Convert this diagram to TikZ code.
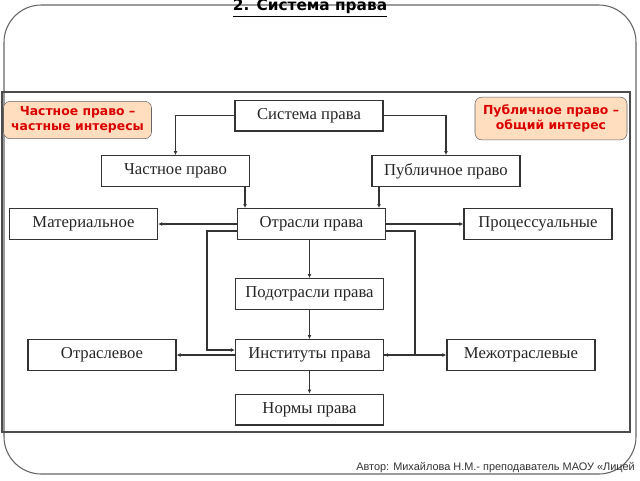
\documentclass[tikz,border=0pt]{standalone}
\usepackage{fontspec}
\setmainfont{Liberation Serif}
\newfontfamily\dv{DejaVu Sans}
\newfontfamily\lsans{Liberation Sans}
\begin{document}
\begin{tikzpicture}[x=0.75pt,y=-0.75pt,
  bx/.style={draw=black!80,line width=1pt,minimum width=111pt,minimum height=23pt,inner sep=0pt,font=\fontsize{12.5}{14}\selectfont,text=black!85},
  rb/.style={draw=black!60,fill=red!8!orange!25!white,rounded corners=5pt,align=center,text=red!85!black,font=\dv\bfseries\fontsize{9.3}{11}\selectfont,inner sep=1pt},
  ar/.style={line width=1pt,draw=black!80,-{Latex[length=3pt,width=3pt]}},
  ln/.style={line width=1pt,draw=black!80}]
\usetikzlibrary{arrows.meta}
\useasboundingbox (0,0) rectangle (640,480);
\fill[white] (0,0) rectangle (640,480);
\draw[black!60,line width=0.8pt,rounded corners=28pt] (4,5) rectangle (636,474);
\draw[black!70,line width=0.8pt] (2,92) rectangle (630,432);
\node[font=\dv\bfseries\fontsize{11.5}{12}\selectfont] (title) at (310,8) {\underline{2. Система права}};
\node[rb,minimum width=111pt,minimum height=28pt] (lp) at (77.5,120) {Частное право –\\частные интересы};
\node[rb,minimum width=114pt,minimum height=32pt] (rp) at (551,118.5) {Публичное право –\\общий интерес};
\node[bx] (sys) at (309,115.5) {Система права};
\node[bx] (ch) at (175.5,171) {Частное право};
\node[bx] (pub) at (446,171) {Публичное право};
\node[bx] (mat) at (83.5,224) {Материальное};
\node[bx] (otr) at (311.5,224) {Отрасли права};
\node[bx] (proc) at (538,224) {Процессуальные};
\node[bx] (pod) at (309.5,294) {Подотрасли права};
\node[bx] (otrl) at (102,355) {Отраслевое};
\node[bx] (inst) at (309.5,355) {Институты права};
\node[bx] (mezh) at (521,355) {Межотраслевые};
\node[bx] (norm) at (309.5,409.5) {Нормы права};
\draw[ar] (sys.west) -| (ch.north);
\draw[ar] (sys.east) -| (pub.north);
\draw[ar] (ch.south -| 245,0) -- (otr.north -| 245,0);
\draw[ar] (pub.south -| 379,0) -- (otr.north -| 379,0);
\draw[ar] (otr.west) -- (mat.east);
\draw[ar] (otr.east) -- (proc.west);
\draw[ar] (otr.south -| pod.north) -- (pod.north);
\draw[ar] (pod) -- (inst);
\draw[ar] (inst) -- (norm);
\draw[ar] (inst.west) -- (otrl.east);
\draw[ar] (inst.east) -- (mezh.west);
\coordinate (l1) at (237,231);
\coordinate (r1) at (386,231);
\draw[ar] (l1) -- (207,231) -- (207,350) -- (inst.west |- 0,350);
\draw[ar] (r1) -- (415,231) -- (415,355) -- (inst.east |- 0,355);
\node[anchor=west,font=\lsans\fontsize{8.2}{9}\selectfont,text=black!80,inner sep=0pt] (auth) at (356,468) {Автор: Михайлова Н.М.- преподаватель МАОУ «Лицей};
\end{tikzpicture}
\end{document}
